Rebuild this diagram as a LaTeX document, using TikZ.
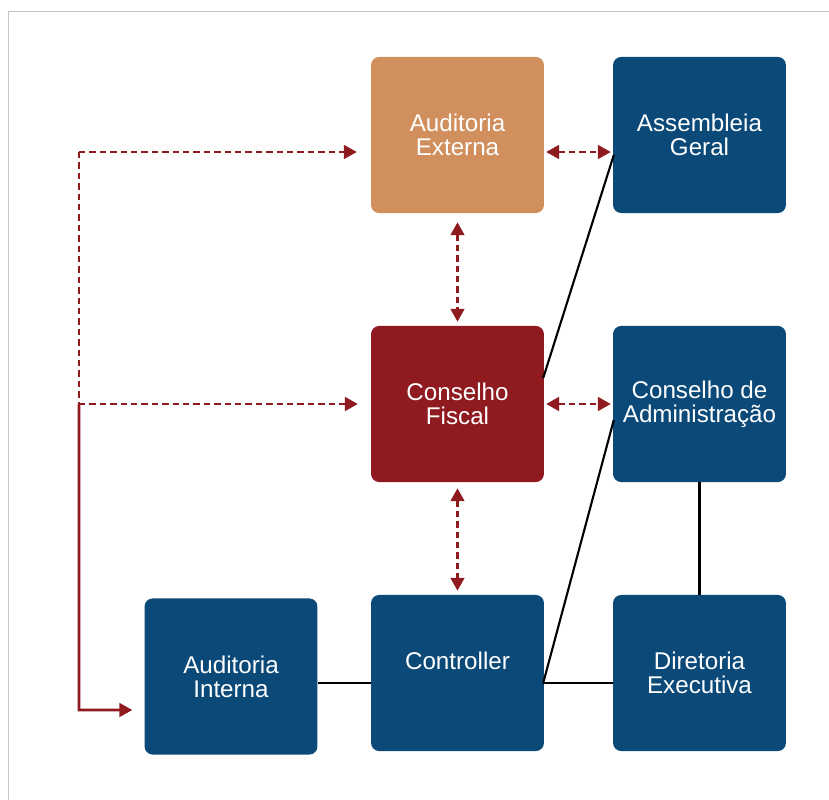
\documentclass[tikz,border=0pt]{standalone}
\usepackage{fontspec}
\setmainfont{Liberation Sans}
\usetikzlibrary{arrows.meta}
\definecolor{orgblue}{RGB}{11,73,120}
\definecolor{orgtan}{RGB}{208,143,92}
\definecolor{orgred}{RGB}{143,27,32}
\definecolor{framegray}{RGB}{196,196,196}
\tikzset{
	orgbox/.style={rectangle, rounded corners=0.2cm, fill=orgblue, text=white, align=center,
		minimum width=4.32cm, minimum height=3.9cm, inner sep=0pt,
		font=\fontsize{17.2pt}{17.1pt}\selectfont},
	redline/.style={line width=1.8pt, color=orgred},
	reddash/.style={redline, dash pattern=on 0.16cm off 0.1cm},
	tip/.style={-{Triangle[length=0.32cm,width=0.34cm]}},
	dbltip/.style={{Triangle[length=0.32cm,width=0.34cm]}-{Triangle[length=0.32cm,width=0.34cm]}},
	blackline/.style={line width=1.5pt, color=black}
}

\begin{document}
\begin{tikzpicture}[x=0.025cm, y=-0.025cm]
			%%%%% START %%%%%
			
			\useasboundingbox (0, 0) rectangle (829, 800);
			\draw[framegray, line width=0.7pt] (8, 800) -- (8, 11) -- (829, 11);
			
			\node[orgbox, fill=orgtan] (audext) at (457.5, 135) {Auditoria\\Externa};
			\node[orgbox] (assemb) at (699.5, 135) {Assembleia\\Geral};
			\node[orgbox, fill=orgred] (consfis) at (457.5, 404) {Conselho\\Fiscal};
			\node[orgbox] (consadm) at (699.5, 404) {Conselho de\\Administração};
			\node[orgbox] (audint) at (231, 676.5) {Auditoria\\Interna};
			\node[orgbox] (contr) at (457.5, 673) {Controller\\\phantom{C}};
			\node[orgbox] (diretor) at (699.5, 673) {Diretoria\\Executiva};
			
			\coordinate (lfttop) at (79, 152);
			\coordinate (lftmid) at (79, 404);
			\coordinate (lftbot) at (79, 710);
			
			% black lines
			\draw[blackline] ([shift={(-1,-26)}]consfis.east) -- ([shift={(1,20)}]assemb.west);
			\draw[blackline] ([shift={(-1,10)}]contr.east) -- ([shift={(1,16)}]consadm.west);
			\draw[blackline] ([shift={(-1,10)}]contr.east) -- ([shift={(0,10)}]diretor.west);
			\draw[blackline] (audint.east |- 0, 683) -- (contr.west |- 0, 683);
			\draw[blackline] (consadm.south) -- (diretor.north);
			
			% red arrows
			\draw[reddash, dbltip] ([shift={(2,17)}]audext.east) -- ([shift={(-2,17)}]assemb.west);
			\draw[reddash, dbltip] ([shift={(2,0)}]consfis.east) -- ([shift={(-2,0)}]consadm.west);
			\draw[reddash, dbltip] ([shift={(0,9)}]audext.south) -- ([shift={(0,-4)}]consfis.north);
			\draw[reddash, dbltip] ([shift={(0,6)}]consfis.south) -- ([shift={(0,-4)}]contr.north);
			
			\draw[reddash] (lfttop) -- (lftmid);
			\draw[reddash, tip] (lfttop) -- ([shift={(-14,17)}]audext.west);
			\draw[reddash, tip] (lftmid) -- ([shift={(-13,0)}]consfis.west);
			\draw[redline, tip] (lftmid) -- (lftbot) -- ([shift={(-12,33.5)}]audint.west);
			
			%%%%% END %%%%%
\end{tikzpicture}
\end{document}
